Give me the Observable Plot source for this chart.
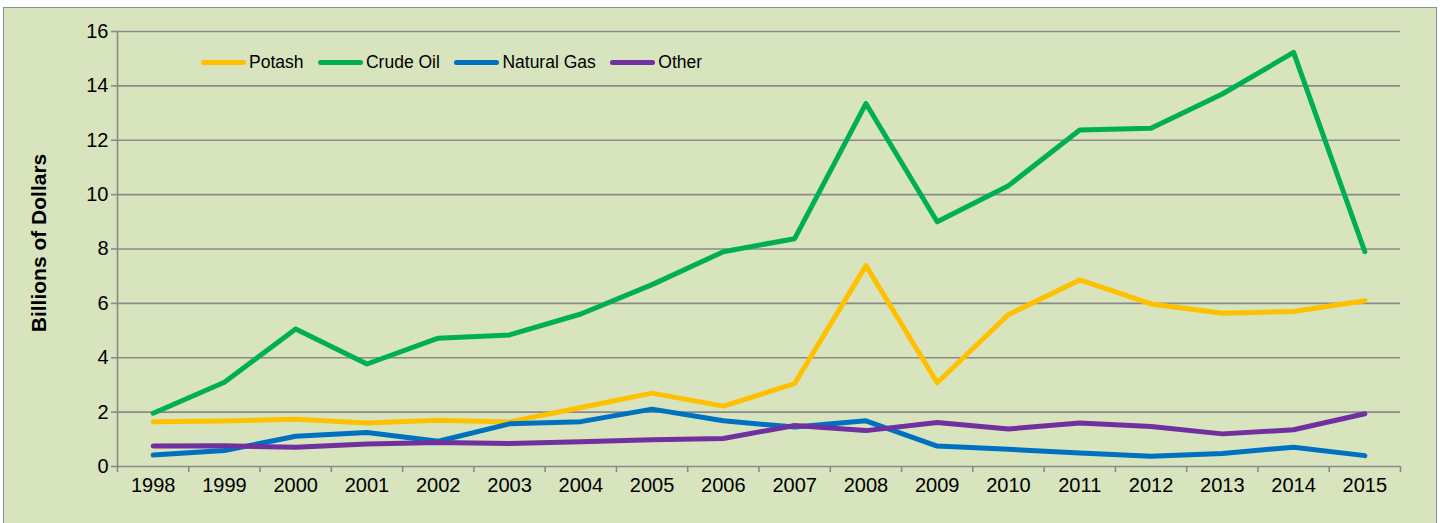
<!DOCTYPE html>
<html>
<head>
<meta charset="utf-8">
<script src="https://cdn.jsdelivr.net/npm/d3@7"></script>
<script src="https://cdn.jsdelivr.net/npm/@observablehq/plot@0.6"></script>
<style>
  html, body { margin: 0; padding: 0; background: #ffffff; }
  #wrap { position: relative; width: 1450px; height: 523px; overflow: hidden; font-family: "Liberation Sans", Arial, sans-serif; }
  #box { position: absolute; left: 3px; top: 7px; width: 1434px; height: 530px; background: #d7e4bd; border: 1.5px solid #8c8c8c; box-sizing: border-box; }
  #chart { position: absolute; left: 0; top: 0; }
  #legend { position: absolute; left: 201px; top: 51px; height: 22px; display: flex; align-items: center; font-size: 17.5px; color: #000; white-space: nowrap; }
  .item { display: flex; align-items: center; margin-right: 14.5px; }
  .sw { width: 45px; height: 5px; border-radius: 3px; margin-right: 3px; }
</style>
</head>
<body>
<div id="wrap">
  <div id="box"></div>
  <div id="chart"></div>
  <div id="legend"></div>
</div>
<script>
const years = [1998,1999,2000,2001,2002,2003,2004,2005,2006,2007,2008,2009,2010,2011,2012,2013,2014,2015];
const potash   = [1.65,1.67,1.74,1.60,1.70,1.64,2.17,2.70,2.22,3.05,7.39,3.08,5.59,6.86,5.98,5.64,5.70,6.10];
const crudeOil = [1.96,3.10,5.06,3.77,4.72,4.84,5.61,6.69,7.90,8.38,13.35,9.00,10.33,12.38,12.44,13.70,15.23,7.90];
const naturalGas = [0.42,0.59,1.11,1.25,0.93,1.57,1.65,2.11,1.68,1.45,1.68,0.75,0.63,0.50,0.38,0.48,0.71,0.40];
const other    = [0.75,0.76,0.71,0.83,0.88,0.85,0.91,0.98,1.03,1.51,1.32,1.62,1.38,1.60,1.47,1.20,1.35,1.94];
const seriesNames = ["Potash","Crude Oil","Natural Gas","Other"];
const seriesColors = ["#ffc000","#00b050","#0070c0","#7030a0"];
const yTicks = [0,2,4,6,8,10,12,14,16];
const yTitle = "Billions of Dollars";

const seriesValues = [potash, crudeOil, naturalGas, other];
const rows = [];
seriesNames.forEach((name, s) => {
  years.forEach((yr, i) => rows.push({series: name, year: yr, value: seriesValues[s][i]}));
});
const bounds = years.map(y => y - 0.5).concat([years[years.length - 1] + 0.5]);
const xMin = bounds[0], xMax = bounds[bounds.length - 1];

const gridColor = "#8a8a8a";

const chart = Plot.plot({
  width: 1450,
  height: 523,
  marginLeft: 117,
  marginRight: 50,
  marginTop: 31,
  marginBottom: 57,
  style: { background: "transparent", fontFamily: "'Liberation Sans', Arial, sans-serif", color: "#000" },
  x: { type: "linear", domain: [xMin, xMax] },
  y: { domain: [0, 16] },
  color: { domain: seriesNames, range: seriesColors },
  marks: [
    Plot.gridY(yTicks, { stroke: gridColor, strokeOpacity: 1, strokeWidth: 1.6 }),
    Plot.ruleX([xMin], { y1: 0, y2: 16, stroke: gridColor, strokeWidth: 1.6 }),
    Plot.axisY({ ticks: yTicks, tickSize: 6, tickPadding: 3, stroke: gridColor, strokeWidth: 1.6, fill: "#000", fontSize: 20, label: null }),
    Plot.axisX({ ticks: bounds, tickSize: 6, tickFormat: () => "", stroke: gridColor, strokeWidth: 1.6, label: null }),
    Plot.axisX({ ticks: years, tickSize: 0, tickPadding: 11, tickFormat: d => String(d), fill: "#000", fontSize: 20, label: null }),
    Plot.line(rows, { x: "year", y: "value", z: "series", stroke: "series", strokeWidth: 5, strokeLinejoin: "round", strokeLinecap: "round" })
  ]
});
document.getElementById("chart").appendChild(chart);

// Y-axis title as SVG text
const svg = d3.select(chart);
svg.append("text")
  .attr("transform", "translate(46,243) rotate(-90)")
  .attr("text-anchor", "middle")
  .attr("font-size", 21)
  .attr("font-weight", "bold")
  .attr("fill", "#000")
  .text(yTitle);

// Legend
const legend = document.getElementById("legend");
seriesNames.forEach((name, i) => {
  const item = document.createElement("div");
  item.className = "item";
  const sw = document.createElement("div");
  sw.className = "sw";
  sw.style.background = seriesColors[i];
  const lab = document.createElement("span");
  lab.textContent = name;
  item.appendChild(sw);
  item.appendChild(lab);
  legend.appendChild(item);
});
</script>
</body>
</html>
